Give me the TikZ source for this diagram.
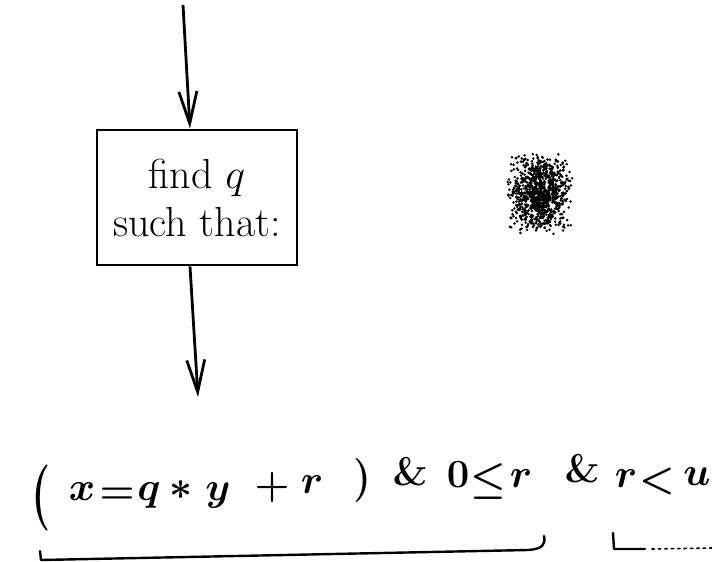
\RequirePackage{fix-cm}
\documentclass[tikz,border=0pt]{standalone}
\usepackage{amsmath}
\usepackage{tikz}
\usetikzlibrary{arrows.meta,positioning}
\tikzstyle{findbox} = [draw, line width=1.4pt, rectangle, minimum width=100pt, minimum height=67.5pt, inner sep=0pt, align=center, font=\fontsize{21}{24}\selectfont]
\tikzstyle{flow} = [line width=1.4pt, -{Straight Barb[length=16pt,width=9pt]}]
\tikzstyle{sym} = [anchor=base, inner sep=0pt, font=\fontsize{20}{24}\selectfont\boldmath]
\tikzstyle{paren} = [sym, anchor=center]
\tikzstyle{brace} = [line width=1.2pt, line cap=round, line join=round]

\begin{document}
\begin{tikzpicture}[x=0.5pt,y=-0.5pt]
	\useasboundingbox (0,0) rectangle (712,562);
	% box and the flow through it
	\node[findbox] (find) at (197,197.5) {find $q$\\such that:};
	\coordinate (start) at (183,5);
	\coordinate (next) at (198,397);
	\draw[flow] (start) -- ([xshift=-3.5pt]find.north);
	\draw[flow] ([xshift=-3.5pt]find.south) -- (next);
	% the condition, one symbol at a time
	\node[paren] (lpar) at (41,498) {\scalebox{1.1}[1.65]{$($}};
	\foreach \s/\xx/\yy [count=\i] in {x/82/500, =/117/503, q/149/500, \ast/181/499, y/218/500, +/272/497, r/312/493}
		\node[sym] (a\i) at (\xx,\yy) {$\s$};
	\node[paren] (rpar) at (362,480) {\scalebox{1}[1.1]{$)$}};
	\foreach \s/\xx/\yy [count=\i] in {\&/410/485, 0/458/487, \leq/488/491, r/521/487, \&/582/482, r/626/487, </657/491, u/697/485}
		\node[sym] (b\i) at (\xx,\yy) {$\s$};
	% braces under the two parts
	\draw[brace] (40,551) -- (41,560) -- (528,550) .. controls (542,549) and (546,545) .. (544,536);
	\draw[brace] (613,533) -- (614,549) -- (645,549);
	\draw[brace, dotted, line width=0.8pt] (652,549) -- (712,548);
	% smudge
	\pgfmathsetseed{42}
	\foreach \k in {1,...,1000}
		\fill ({540+17*(rand+rand)}, {193+21*(rand+rand)}) circle (1.4);
\end{tikzpicture}
\end{document}
